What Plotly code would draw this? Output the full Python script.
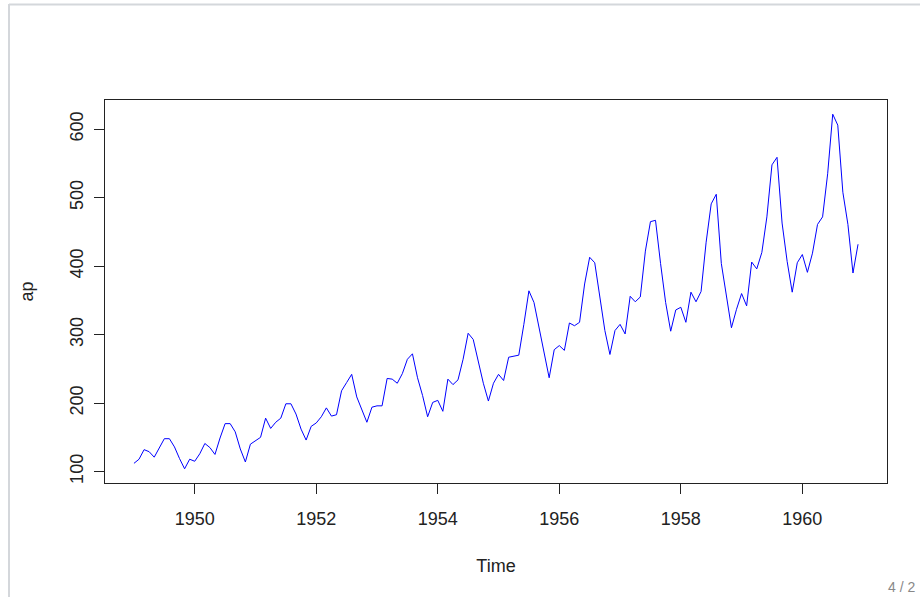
import plotly.graph_objects as go

years = list(range(1949, 1961))
passengers = [
    112, 118, 132, 129, 121, 135, 148, 148, 136, 119, 104, 118,
    115, 126, 141, 135, 125, 149, 170, 170, 158, 133, 114, 140,
    145, 150, 178, 163, 172, 178, 199, 199, 184, 162, 146, 166,
    171, 180, 193, 181, 183, 218, 230, 242, 209, 191, 172, 194,
    196, 196, 236, 235, 229, 243, 264, 272, 237, 211, 180, 201,
    204, 188, 235, 227, 234, 264, 302, 293, 259, 229, 203, 229,
    242, 233, 267, 269, 270, 315, 364, 347, 312, 274, 237, 278,
    284, 277, 317, 313, 318, 374, 413, 405, 355, 306, 271, 306,
    315, 301, 356, 348, 355, 422, 465, 467, 404, 347, 305, 336,
    340, 318, 362, 348, 363, 435, 491, 505, 404, 359, 310, 337,
    360, 342, 406, 396, 420, 472, 548, 559, 463, 407, 362, 405,
    417, 391, 419, 461, 472, 535, 622, 606, 508, 461, 390, 432,
]
time = [y + m / 12 for y in years for m in range(12)]

x_ticks = [1950, 1952, 1954, 1956, 1958, 1960]
y_ticks = [100, 200, 300, 400, 500, 600]

xr = (min(time), max(time))
yr = (min(passengers), max(passengers))
xpad = (xr[1] - xr[0]) * 0.04
ypad = (yr[1] - yr[0]) * 0.04

fig = go.Figure()
fig.add_trace(go.Scatter(x=time, y=passengers, mode="lines",
                         line=dict(color="#0000ff", width=1),
                         hoverinfo="skip", showlegend=False))

FONT = "Liberation Sans, Arial, sans-serif"
axis_common = dict(showgrid=False, zeroline=False, showline=True, mirror=True,
                   linecolor="#222222", linewidth=1, ticks="outside", ticklen=10,
                   tickcolor="#222222", tickwidth=1,
                   tickfont=dict(family=FONT, size=18, color="#222222"))

fig.update_layout(
    width=920, height=597,
    margin=dict(l=105, r=33, t=100, b=114),
    paper_bgcolor="white", plot_bgcolor="white",
    xaxis=dict(range=[xr[0] - xpad, xr[1] + xpad], tickvals=x_ticks,
               ticktext=[str(v) for v in x_ticks], ticklabelstandoff=9,
               title=dict(text="Time", font=dict(family=FONT, size=18, color="#222222"), standoff=31),
               **axis_common),
    yaxis=dict(range=[yr[0] - ypad, yr[1] + ypad], tickvals=y_ticks,
               ticktext=[str(v) for v in y_ticks], tickangle=-90, ticklabelstandoff=4,
               title=dict(text="ap", font=dict(family=FONT, size=18, color="#222222"), standoff=28),
               **axis_common),
    shapes=[
        dict(type="line", xref="paper", yref="paper",
             x0=(9 - 105) / 782, x1=(925 - 105) / 782,
             y0=(483 - 4.5) / 383, y1=(483 - 4.5) / 383,
             line=dict(color="#d4d7db", width=2)),
        dict(type="line", xref="paper", yref="paper",
             x0=(9 - 105) / 782, x1=(9 - 105) / 782,
             y0=(483 - 4) / 383, y1=(483 - 600) / 383,
             line=dict(color="#d4d7db", width=2)),
    ],
    annotations=[
        dict(text="4 / 2", xref="paper", yref="paper",
             x=(886 - 105) / 782, y=(483 - 587) / 383,
             xanchor="left", yanchor="middle", showarrow=False,
             font=dict(family=FONT, size=14, color="#888888")),
    ],
)

fig.write_html("out.html", config={"displayModeBar": False},
               post_script="document.body.style.margin='0';document.body.style.overflow='hidden';")
